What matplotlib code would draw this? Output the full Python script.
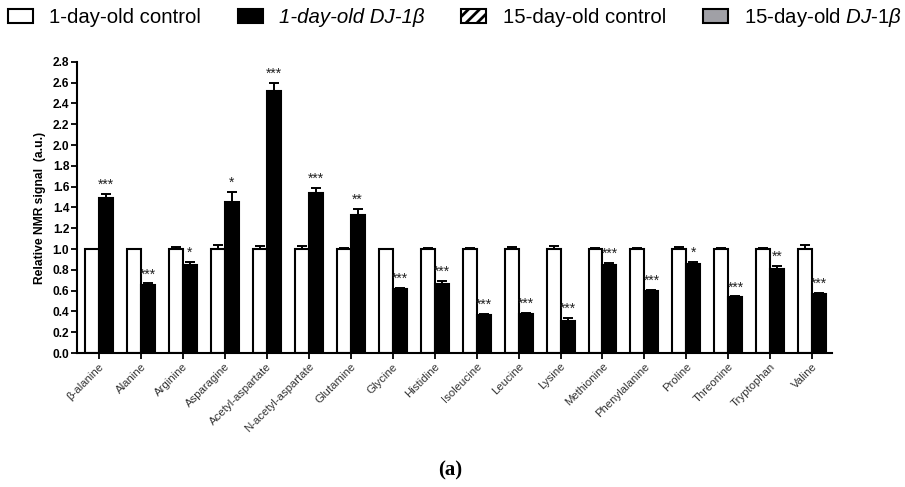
import matplotlib
matplotlib.use("Agg")
import matplotlib.pyplot as plt
from matplotlib.patches import Patch
import numpy as np

plt.rcParams['font.family'] = ['Liberation Sans', 'DejaVu Sans']
plt.rcParams['hatch.linewidth'] = 2.0
plt.rcParams['mathtext.fontset'] = 'custom'
plt.rcParams['mathtext.rm'] = 'Liberation Sans'
plt.rcParams['mathtext.it'] = 'Liberation Sans:italic'

categories = ["β-alanine", "Alanine", "Arginine", "Asparagine", "Acetyl-aspartate",
              "N-acetyl-aspartate", "Glutamine", "Glycine", "Histidine", "Isoleucine",
              "Leucine", "Lysine", "Methionine", "Phenylalanine", "Proline",
              "Threonine", "Tryptophan", "Valine"]
control = [1.0] * 18
control_err = [0.005, 0.005, 0.02, 0.04, 0.03, 0.03, 0.012, 0.005, 0.015, 0.01,
               0.02, 0.03, 0.01, 0.01, 0.02, 0.01, 0.015, 0.035]
dj1b = [1.49, 0.65, 0.85, 1.45, 2.52, 1.54, 1.33, 0.62, 0.66, 0.37,
        0.38, 0.31, 0.85, 0.60, 0.86, 0.54, 0.81, 0.57]
dj1b_err = [0.04, 0.02, 0.03, 0.10, 0.08, 0.05, 0.06, 0.01, 0.03, 0.01,
            0.01, 0.03, 0.015, 0.01, 0.02, 0.005, 0.03, 0.01]
signif = ["***", "***", "*", "*", "***", "***", "**", "***", "***", "***",
          "***", "***", "***", "***", "*", "***", "**", "***"]
yticks = [0.0, 0.2, 0.4, 0.6, 0.8, 1.0, 1.2, 1.4, 1.6, 1.8, 2.0, 2.2, 2.4, 2.6, 2.8]

fig = plt.figure(figsize=(9.05, 4.87), dpi=100)
ax = fig.add_axes([0.085, 0.275, 0.834, 0.598])

x = np.arange(len(categories))
w = 1 / 3
ekw = dict(ecolor='black', elinewidth=1.4, capsize=3.5, capthick=1.4)
ax.bar(x - w / 2, control, w, color='white', edgecolor='black', linewidth=1.5,
       yerr=[np.zeros(len(control)), control_err], error_kw=ekw, zorder=2)
ax.bar(x + w / 2, dj1b, w, color='black', edgecolor='black', linewidth=1.5,
       yerr=[np.zeros(len(dj1b)), dj1b_err], error_kw=ekw, zorder=2)

for xi, v, e, s in zip(x, dj1b, dj1b_err, signif):
    ax.text(xi + w / 2, v + e + 0.02, s, ha='center', va='bottom', fontsize=10,
            color='#222222')

ax.set_xlim(-0.52, 17.46)
ax.set_ylim(0, 2.8)
ax.set_yticks(yticks)
ax.set_yticklabels([f"{t:.1f}" for t in yticks], fontsize=8.6, fontweight='bold')
ax.set_xticks(x)
ax.set_xticklabels(categories, rotation=45, ha='right', rotation_mode='anchor',
                   fontsize=8.2, color='#333333')
ax.tick_params(axis='both', direction='out', length=4, width=1.3, color='black')
ax.tick_params(axis='x', pad=2)
ax.tick_params(axis='y', pad=1.5)
for side in ['top', 'right']:
    ax.spines[side].set_visible(False)
for side in ['left', 'bottom']:
    ax.spines[side].set_linewidth(1.5)
ax.set_ylabel("Relative NMR signal  (a.u.)", fontsize=8.7, fontweight='bold', labelpad=5)

handles = [
    Patch(facecolor='white', edgecolor='black', linewidth=1.5),
    Patch(facecolor='black', edgecolor='black', linewidth=1.5),
    Patch(facecolor='white', edgecolor='black', linewidth=1.5, hatch='///'),
    Patch(facecolor='#a0a0a6', edgecolor='black', linewidth=1.5),
]
labels = ["1-day-old control", "1-day-old DJ-1β", "15-day-old control",
          "15-day-old $\\mathit{DJ}$-$\\mathit{1β}$"]
leg = fig.legend(handles, labels, loc='center left',
                 bbox_to_anchor=(8 / 905, 1 - 17.5 / 487), ncol=4,
                 frameon=False, fontsize=14.7, borderpad=0, borderaxespad=0,
                 handlelength=1.22, handleheight=0.72,
                 handletextpad=0.8, columnspacing=1.8)
texts = leg.get_texts()
texts[1].set_fontstyle('italic')

fig.text(0.497, 0.033, "(a)", ha='center', va='center', fontsize=15, fontweight='bold',
         family=['Liberation Serif', 'DejaVu Serif'])

fig.savefig("out.png", dpi=100)
